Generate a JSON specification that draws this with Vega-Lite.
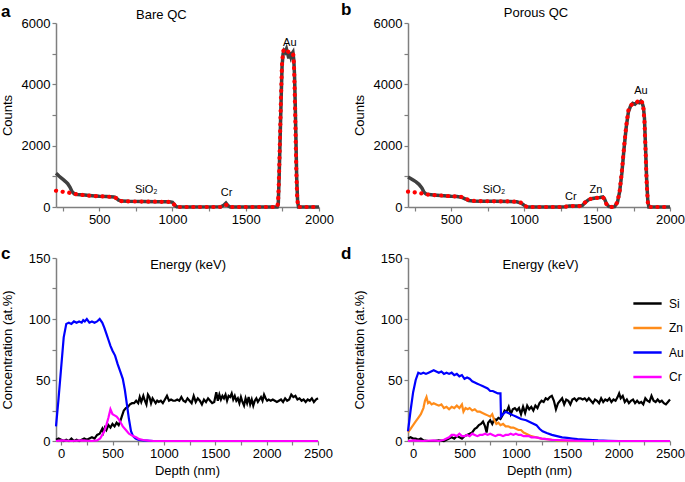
{
  "$schema": "https://vega.github.io/schema/vega-lite/v6.json",
  "padding": {"left": 1, "top": 1, "right": 2, "bottom": 2},
  "background": "white",
  "config": {
    "font": "Liberation Sans",
    "view": {"stroke": null},
    "axis": {"grid": false, "domainColor": "#7f7f7f", "domainWidth": 1.5, "tickColor": "#7f7f7f", "tickWidth": 1.2, "labelFontSize": 13, "labelColor": "black", "titleFontSize": 13, "titleFontWeight": "normal", "titleColor": "black", "labelPadding": 2, "labelOverlap": false},
    "axisX": {"labelFlush": false, "titlePadding": 4},
    "axisY": {"minExtent": 37, "maxExtent": 37, "titlePadding": 5},
    "title": {"fontSize": 17, "fontWeight": "bold", "anchor": "start", "frame": "bounds", "color": "black"}
  },
  "columns": 2,
  "spacing": {"row": 19, "column": 7},
  "resolve": {"scale": {"color": "independent"}, "legend": {"color": "independent"}},
  "datasets": {
    "a": [
      {"x":205,"y":1100,"s":"m"},{"x":215,"y":1060,"s":"m"},{"x":225,"y":1010,"s":"m"},{"x":240,"y":950,"s":"m"},{"x":255,"y":890,"s":"m"},{"x":270,"y":830,"s":"m"},{"x":285,"y":760,"s":"m"},{"x":300,"y":650,"s":"m"},{"x":315,"y":500,"s":"m"},{"x":330,"y":430,"s":"m"},{"x":350,"y":410,"s":"m"},{"x":400,"y":390,"s":"m"},{"x":450,"y":370,"s":"m"},{"x":500,"y":352,"s":"m"},{"x":550,"y":340,"s":"m"},{"x":600,"y":330,"s":"m"},{"x":615,"y":300,"s":"m"},{"x":630,"y":230,"s":"m"},{"x":650,"y":195,"s":"m"},{"x":700,"y":185,"s":"m"},{"x":800,"y":180,"s":"m"},{"x":900,"y":175,"s":"m"},{"x":980,"y":170,"s":"m"},{"x":1000,"y":150,"s":"m"},{"x":1015,"y":60,"s":"m"},{"x":1030,"y":5,"s":"m"},{"x":1100,"y":0,"s":"m"},{"x":1330,"y":5,"s":"m"},{"x":1350,"y":60,"s":"m"},{"x":1365,"y":130,"s":"m"},{"x":1380,"y":40,"s":"m"},{"x":1395,"y":0,"s":"m"},{"x":1715,"y":0,"s":"m"},{"x":1722,"y":100,"s":"m"},{"x":1728,"y":1000,"s":"m"},{"x":1735,"y":2300,"s":"m"},{"x":1742,"y":3600,"s":"m"},{"x":1748,"y":4600,"s":"m"},{"x":1755,"y":5000,"s":"m"},{"x":1762,"y":5100,"s":"m"},{"x":1770,"y":5050,"s":"m"},{"x":1778,"y":5150,"s":"m"},{"x":1786,"y":5000,"s":"m"},{"x":1794,"y":4850,"s":"m"},{"x":1800,"y":5050,"s":"m"},{"x":1808,"y":4900,"s":"m"},{"x":1815,"y":5000,"s":"m"},{"x":1822,"y":5050,"s":"m"},{"x":1828,"y":4800,"s":"m"},{"x":1833,"y":4300,"s":"m"},{"x":1838,"y":3300,"s":"m"},{"x":1843,"y":2100,"s":"m"},{"x":1848,"y":900,"s":"m"},{"x":1854,"y":200,"s":"m"},{"x":1860,"y":0,"s":"m"},{"x":2000,"y":0,"s":"m"},
      {"x":205,"y":530,"s":"f"},{"x":230,"y":510,"s":"f"},{"x":260,"y":490,"s":"f"},{"x":290,"y":470,"s":"f"},{"x":320,"y":440,"s":"f"},{"x":350,"y":410,"s":"f"},{"x":400,"y":385,"s":"f"},{"x":450,"y":365,"s":"f"},{"x":500,"y":350,"s":"f"},{"x":550,"y":340,"s":"f"},{"x":600,"y":325,"s":"f"},{"x":615,"y":290,"s":"f"},{"x":630,"y":230,"s":"f"},{"x":650,"y":190,"s":"f"},{"x":700,"y":180,"s":"f"},{"x":800,"y":178,"s":"f"},{"x":900,"y":172,"s":"f"},{"x":980,"y":165,"s":"f"},{"x":1000,"y":140,"s":"f"},{"x":1015,"y":60,"s":"f"},{"x":1030,"y":0,"s":"f"},{"x":1340,"y":0,"s":"f"},{"x":1355,"y":40,"s":"f"},{"x":1368,"y":70,"s":"f"},{"x":1382,"y":30,"s":"f"},{"x":1395,"y":0,"s":"f"},{"x":1712,"y":0,"s":"f"},{"x":1720,"y":100,"s":"f"},{"x":1726,"y":800,"s":"f"},{"x":1733,"y":2100,"s":"f"},{"x":1740,"y":3500,"s":"f"},{"x":1747,"y":4600,"s":"f"},{"x":1754,"y":5050,"s":"f"},{"x":1762,"y":5150,"s":"f"},{"x":1770,"y":5130,"s":"f"},{"x":1778,"y":5100,"s":"f"},{"x":1786,"y":5080,"s":"f"},{"x":1794,"y":5050,"s":"f"},{"x":1802,"y":5050,"s":"f"},{"x":1810,"y":5050,"s":"f"},{"x":1818,"y":5030,"s":"f"},{"x":1825,"y":4950,"s":"f"},{"x":1830,"y":4500,"s":"f"},{"x":1835,"y":3600,"s":"f"},{"x":1840,"y":2400,"s":"f"},{"x":1845,"y":1200,"s":"f"},{"x":1851,"y":300,"s":"f"},{"x":1857,"y":0,"s":"f"},{"x":2000,"y":0,"s":"f"}
    ],
    "la": [
      {"x":821,"y":554,"t":"SiO₂"},{"x":1369,"y":456,"t":"Cr"},{"x":1801,"y":5340,"t":"Au"}
    ],
    "ha": [{"x":924,"y":6254,"t":"Bare QC"}],
    "b": [
      {"x":205,"y":980,"s":"m"},{"x":220,"y":940,"s":"m"},{"x":240,"y":880,"s":"m"},{"x":260,"y":820,"s":"m"},{"x":280,"y":740,"s":"m"},{"x":300,"y":620,"s":"m"},{"x":315,"y":480,"s":"m"},{"x":330,"y":420,"s":"m"},{"x":380,"y":390,"s":"m"},{"x":450,"y":370,"s":"m"},{"x":500,"y":350,"s":"m"},{"x":540,"y":345,"s":"m"},{"x":570,"y":320,"s":"m"},{"x":600,"y":260,"s":"m"},{"x":620,"y":210,"s":"m"},{"x":650,"y":195,"s":"m"},{"x":700,"y":190,"s":"m"},{"x":800,"y":185,"s":"m"},{"x":900,"y":180,"s":"m"},{"x":950,"y":170,"s":"m"},{"x":980,"y":130,"s":"m"},{"x":1000,"y":60,"s":"m"},{"x":1015,"y":10,"s":"m"},{"x":1030,"y":0,"s":"m"},{"x":1250,"y":0,"s":"m"},{"x":1280,"y":10,"s":"m"},{"x":1310,"y":30,"s":"m"},{"x":1340,"y":35,"s":"m"},{"x":1370,"y":30,"s":"m"},{"x":1400,"y":50,"s":"m"},{"x":1420,"y":150,"s":"m"},{"x":1440,"y":230,"s":"m"},{"x":1460,"y":270,"s":"m"},{"x":1490,"y":290,"s":"m"},{"x":1520,"y":310,"s":"m"},{"x":1540,"y":330,"s":"m"},{"x":1552,"y":260,"s":"m"},{"x":1565,"y":100,"s":"m"},{"x":1580,"y":20,"s":"m"},{"x":1600,"y":0,"s":"m"},{"x":1620,"y":10,"s":"m"},{"x":1640,"y":150,"s":"m"},{"x":1655,"y":500,"s":"m"},{"x":1670,"y":1100,"s":"m"},{"x":1685,"y":1900,"s":"m"},{"x":1700,"y":2600,"s":"m"},{"x":1715,"y":3100,"s":"m"},{"x":1730,"y":3300,"s":"m"},{"x":1745,"y":3380,"s":"m"},{"x":1760,"y":3350,"s":"m"},{"x":1775,"y":3420,"s":"m"},{"x":1790,"y":3400,"s":"m"},{"x":1800,"y":3450,"s":"m"},{"x":1810,"y":3380,"s":"m"},{"x":1818,"y":3250,"s":"m"},{"x":1825,"y":2900,"s":"m"},{"x":1832,"y":2000,"s":"m"},{"x":1840,"y":900,"s":"m"},{"x":1848,"y":200,"s":"m"},{"x":1855,"y":0,"s":"m"},{"x":2000,"y":0,"s":"m"},
      {"x":205,"y":500,"s":"f"},{"x":230,"y":490,"s":"f"},{"x":260,"y":470,"s":"f"},{"x":290,"y":450,"s":"f"},{"x":320,"y":420,"s":"f"},{"x":350,"y":400,"s":"f"},{"x":400,"y":385,"s":"f"},{"x":450,"y":370,"s":"f"},{"x":500,"y":350,"s":"f"},{"x":550,"y":340,"s":"f"},{"x":580,"y":320,"s":"f"},{"x":610,"y":250,"s":"f"},{"x":640,"y":200,"s":"f"},{"x":700,"y":190,"s":"f"},{"x":800,"y":185,"s":"f"},{"x":900,"y":180,"s":"f"},{"x":950,"y":172,"s":"f"},{"x":980,"y":140,"s":"f"},{"x":1000,"y":60,"s":"f"},{"x":1020,"y":0,"s":"f"},{"x":1260,"y":0,"s":"f"},{"x":1290,"y":15,"s":"f"},{"x":1320,"y":30,"s":"f"},{"x":1350,"y":30,"s":"f"},{"x":1380,"y":30,"s":"f"},{"x":1400,"y":60,"s":"f"},{"x":1420,"y":160,"s":"f"},{"x":1440,"y":240,"s":"f"},{"x":1460,"y":270,"s":"f"},{"x":1490,"y":290,"s":"f"},{"x":1520,"y":310,"s":"f"},{"x":1540,"y":320,"s":"f"},{"x":1552,"y":250,"s":"f"},{"x":1565,"y":90,"s":"f"},{"x":1580,"y":10,"s":"f"},{"x":1600,"y":0,"s":"f"},{"x":1620,"y":15,"s":"f"},{"x":1640,"y":160,"s":"f"},{"x":1655,"y":520,"s":"f"},{"x":1670,"y":1150,"s":"f"},{"x":1685,"y":1950,"s":"f"},{"x":1700,"y":2650,"s":"f"},{"x":1715,"y":3150,"s":"f"},{"x":1730,"y":3300,"s":"f"},{"x":1745,"y":3380,"s":"f"},{"x":1760,"y":3400,"s":"f"},{"x":1775,"y":3430,"s":"f"},{"x":1790,"y":3470,"s":"f"},{"x":1800,"y":3500,"s":"f"},{"x":1810,"y":3400,"s":"f"},{"x":1818,"y":3200,"s":"f"},{"x":1825,"y":2800,"s":"f"},{"x":1832,"y":1900,"s":"f"},{"x":1840,"y":800,"s":"f"},{"x":1848,"y":150,"s":"f"},{"x":1855,"y":0,"s":"f"},{"x":2000,"y":0,"s":"f"}
    ],
    "lb": [
      {"x":794,"y":554,"t":"SiO₂"},{"x":1321,"y":325,"t":"Cr"},{"x":1493,"y":554,"t":"Zn"},{"x":1801,"y":3780,"t":"Au"}
    ],
    "hb": [{"x":1082,"y":6320,"t":"Porous QC"}],
    "hc": [{"x":1236,"y":144,"t":"Energy (keV)"}],
    "hd": [{"x":1240,"y":144,"t":"Energy (keV)"}],
    "c": [
      {"x":-50,"y":1,"s":"Si"},{"x":-25,"y":2,"s":"Si"},{"x":0,"y":1,"s":"Si"},{"x":25,"y":0,"s":"Si"},{"x":50,"y":1,"s":"Si"},{"x":75,"y":0,"s":"Si"},{"x":100,"y":2,"s":"Si"},{"x":125,"y":0,"s":"Si"},{"x":150,"y":1,"s":"Si"},{"x":175,"y":0,"s":"Si"},{"x":200,"y":1,"s":"Si"},{"x":225,"y":2,"s":"Si"},{"x":250,"y":1,"s":"Si"},{"x":275,"y":2,"s":"Si"},{"x":300,"y":3,"s":"Si"},{"x":325,"y":2,"s":"Si"},{"x":350,"y":5,"s":"Si"},{"x":375,"y":6,"s":"Si"},{"x":400,"y":10,"s":"Si"},{"x":410,"y":7,"s":"Si"},{"x":425,"y":11,"s":"Si"},{"x":440,"y":9,"s":"Si"},{"x":460,"y":13,"s":"Si"},{"x":480,"y":11,"s":"Si"},{"x":500,"y":14,"s":"Si"},{"x":520,"y":12,"s":"Si"},{"x":540,"y":15,"s":"Si"},{"x":560,"y":13,"s":"Si"},{"x":575,"y":16,"s":"Si"},{"x":590,"y":20,"s":"Si"},{"x":610,"y":25,"s":"Si"},{"x":630,"y":27,"s":"Si"},{"x":650,"y":28,"s":"Si"},{"x":670,"y":30,"s":"Si"},{"x":690,"y":31,"s":"Si"},{"x":710,"y":31,"s":"Si"},{"x":730,"y":33,"s":"Si"},{"x":750,"y":31,"s":"Si"},{"x":765,"y":36,"s":"Si"},{"x":780,"y":32,"s":"Si"},{"x":800,"y":37,"s":"Si"},{"x":815,"y":33,"s":"Si"},{"x":830,"y":30,"s":"Si"},{"x":845,"y":38,"s":"Si"},{"x":860,"y":36,"s":"Si"},{"x":875,"y":31,"s":"Si"},{"x":890,"y":35,"s":"Si"},{"x":905,"y":33,"s":"Si"},{"x":920,"y":31,"s":"Si"},{"x":935,"y":33,"s":"Si"},{"x":950,"y":32,"s":"Si"},{"x":970,"y":33,"s":"Si"},{"x":990,"y":31,"s":"Si"},{"x":1010,"y":34,"s":"Si"},{"x":1030,"y":37,"s":"Si"},{"x":1050,"y":33,"s":"Si"},{"x":1070,"y":34,"s":"Si"},{"x":1090,"y":33,"s":"Si"},{"x":1110,"y":33,"s":"Si"},{"x":1130,"y":34,"s":"Si"},{"x":1150,"y":33,"s":"Si"},{"x":1170,"y":36,"s":"Si"},{"x":1190,"y":33,"s":"Si"},{"x":1210,"y":32,"s":"Si"},{"x":1230,"y":35,"s":"Si"},{"x":1250,"y":33,"s":"Si"},{"x":1270,"y":31,"s":"Si"},{"x":1290,"y":37,"s":"Si"},{"x":1310,"y":32,"s":"Si"},{"x":1330,"y":35,"s":"Si"},{"x":1350,"y":33,"s":"Si"},{"x":1370,"y":30,"s":"Si"},{"x":1390,"y":34,"s":"Si"},{"x":1410,"y":32,"s":"Si"},{"x":1430,"y":35,"s":"Si"},{"x":1450,"y":33,"s":"Si"},{"x":1470,"y":31,"s":"Si"},{"x":1490,"y":32,"s":"Si"},{"x":1510,"y":40,"s":"Si"},{"x":1525,"y":33,"s":"Si"},{"x":1540,"y":38,"s":"Si"},{"x":1555,"y":34,"s":"Si"},{"x":1570,"y":37,"s":"Si"},{"x":1585,"y":35,"s":"Si"},{"x":1600,"y":38,"s":"Si"},{"x":1615,"y":33,"s":"Si"},{"x":1630,"y":37,"s":"Si"},{"x":1645,"y":36,"s":"Si"},{"x":1660,"y":39,"s":"Si"},{"x":1675,"y":34,"s":"Si"},{"x":1690,"y":37,"s":"Si"},{"x":1705,"y":33,"s":"Si"},{"x":1720,"y":35,"s":"Si"},{"x":1735,"y":31,"s":"Si"},{"x":1750,"y":36,"s":"Si"},{"x":1765,"y":32,"s":"Si"},{"x":1780,"y":29,"s":"Si"},{"x":1795,"y":35,"s":"Si"},{"x":1810,"y":31,"s":"Si"},{"x":1825,"y":36,"s":"Si"},{"x":1840,"y":30,"s":"Si"},{"x":1855,"y":34,"s":"Si"},{"x":1870,"y":29,"s":"Si"},{"x":1885,"y":33,"s":"Si"},{"x":1900,"y":35,"s":"Si"},{"x":1915,"y":32,"s":"Si"},{"x":1930,"y":34,"s":"Si"},{"x":1945,"y":36,"s":"Si"},{"x":1960,"y":33,"s":"Si"},{"x":1975,"y":38,"s":"Si"},{"x":1990,"y":35,"s":"Si"},{"x":2005,"y":33,"s":"Si"},{"x":2020,"y":34,"s":"Si"},{"x":2040,"y":33,"s":"Si"},{"x":2060,"y":34,"s":"Si"},{"x":2080,"y":33,"s":"Si"},{"x":2100,"y":32,"s":"Si"},{"x":2120,"y":33,"s":"Si"},{"x":2140,"y":34,"s":"Si"},{"x":2160,"y":32,"s":"Si"},{"x":2180,"y":35,"s":"Si"},{"x":2200,"y":33,"s":"Si"},{"x":2220,"y":34,"s":"Si"},{"x":2240,"y":38,"s":"Si"},{"x":2260,"y":36,"s":"Si"},{"x":2280,"y":37,"s":"Si"},{"x":2300,"y":34,"s":"Si"},{"x":2320,"y":35,"s":"Si"},{"x":2340,"y":33,"s":"Si"},{"x":2360,"y":34,"s":"Si"},{"x":2380,"y":32,"s":"Si"},{"x":2400,"y":34,"s":"Si"},{"x":2420,"y":33,"s":"Si"},{"x":2440,"y":35,"s":"Si"},{"x":2460,"y":32,"s":"Si"},{"x":2480,"y":34,"s":"Si"},{"x":2500,"y":35,"s":"Si"},
      {"x":-50,"y":12,"s":"Au"},{"x":-25,"y":35,"s":"Au"},{"x":0,"y":60,"s":"Au"},{"x":25,"y":85,"s":"Au"},{"x":50,"y":96,"s":"Au"},{"x":75,"y":97,"s":"Au"},{"x":100,"y":96,"s":"Au"},{"x":125,"y":98,"s":"Au"},{"x":150,"y":97,"s":"Au"},{"x":175,"y":98,"s":"Au"},{"x":200,"y":97,"s":"Au"},{"x":215,"y":99,"s":"Au"},{"x":230,"y":98,"s":"Au"},{"x":250,"y":100,"s":"Au"},{"x":275,"y":97,"s":"Au"},{"x":300,"y":98,"s":"Au"},{"x":325,"y":97,"s":"Au"},{"x":350,"y":98,"s":"Au"},{"x":375,"y":100,"s":"Au"},{"x":400,"y":97,"s":"Au"},{"x":420,"y":93,"s":"Au"},{"x":440,"y":88,"s":"Au"},{"x":460,"y":83,"s":"Au"},{"x":480,"y":78,"s":"Au"},{"x":500,"y":74,"s":"Au"},{"x":525,"y":70,"s":"Au"},{"x":550,"y":63,"s":"Au"},{"x":575,"y":57,"s":"Au"},{"x":600,"y":51,"s":"Au"},{"x":620,"y":42,"s":"Au"},{"x":640,"y":30,"s":"Au"},{"x":660,"y":18,"s":"Au"},{"x":680,"y":8,"s":"Au"},{"x":700,"y":4,"s":"Au"},{"x":725,"y":2,"s":"Au"},{"x":750,"y":1,"s":"Au"},{"x":800,"y":0.5,"s":"Au"},{"x":900,"y":0,"s":"Au"},{"x":2500,"y":0,"s":"Au"},
      {"x":-50,"y":0,"s":"Cr"},{"x":0,"y":0.5,"s":"Cr"},{"x":100,"y":0,"s":"Cr"},{"x":200,"y":0.5,"s":"Cr"},{"x":300,"y":0,"s":"Cr"},{"x":350,"y":0.5,"s":"Cr"},{"x":380,"y":2,"s":"Cr"},{"x":400,"y":5,"s":"Cr"},{"x":420,"y":8,"s":"Cr"},{"x":440,"y":13,"s":"Cr"},{"x":460,"y":19,"s":"Cr"},{"x":480,"y":26,"s":"Cr"},{"x":490,"y":24,"s":"Cr"},{"x":500,"y":22,"s":"Cr"},{"x":520,"y":21,"s":"Cr"},{"x":540,"y":20,"s":"Cr"},{"x":560,"y":18,"s":"Cr"},{"x":580,"y":15,"s":"Cr"},{"x":600,"y":12,"s":"Cr"},{"x":630,"y":9,"s":"Cr"},{"x":660,"y":6,"s":"Cr"},{"x":700,"y":4,"s":"Cr"},{"x":730,"y":3,"s":"Cr"},{"x":760,"y":1.5,"s":"Cr"},{"x":800,"y":0.8,"s":"Cr"},{"x":850,"y":0.3,"s":"Cr"},{"x":900,"y":0,"s":"Cr"},{"x":2500,"y":0,"s":"Cr"}
    ],
    "d": [
      {"x":-50,"y":2,"s":"Si"},{"x":-25,"y":3,"s":"Si"},{"x":0,"y":2,"s":"Si"},{"x":25,"y":2,"s":"Si"},{"x":50,"y":1,"s":"Si"},{"x":75,"y":2,"s":"Si"},{"x":100,"y":0.5,"s":"Si"},{"x":150,"y":0,"s":"Si"},{"x":200,"y":0,"s":"Si"},{"x":250,"y":0.5,"s":"Si"},{"x":300,"y":0,"s":"Si"},{"x":325,"y":1,"s":"Si"},{"x":350,"y":2,"s":"Si"},{"x":375,"y":3,"s":"Si"},{"x":400,"y":2,"s":"Si"},{"x":425,"y":4,"s":"Si"},{"x":450,"y":3,"s":"Si"},{"x":475,"y":2,"s":"Si"},{"x":500,"y":4,"s":"Si"},{"x":525,"y":5,"s":"Si"},{"x":550,"y":6,"s":"Si"},{"x":575,"y":7,"s":"Si"},{"x":600,"y":10,"s":"Si"},{"x":620,"y":11,"s":"Si"},{"x":640,"y":13,"s":"Si"},{"x":660,"y":14,"s":"Si"},{"x":680,"y":16,"s":"Si"},{"x":700,"y":12,"s":"Si"},{"x":715,"y":7,"s":"Si"},{"x":730,"y":15,"s":"Si"},{"x":750,"y":17,"s":"Si"},{"x":770,"y":14,"s":"Si"},{"x":790,"y":18,"s":"Si"},{"x":810,"y":17,"s":"Si"},{"x":830,"y":19,"s":"Si"},{"x":850,"y":18,"s":"Si"},{"x":870,"y":21,"s":"Si"},{"x":890,"y":25,"s":"Si"},{"x":910,"y":24,"s":"Si"},{"x":930,"y":28,"s":"Si"},{"x":950,"y":22,"s":"Si"},{"x":970,"y":26,"s":"Si"},{"x":990,"y":27,"s":"Si"},{"x":1010,"y":25,"s":"Si"},{"x":1030,"y":27,"s":"Si"},{"x":1050,"y":22,"s":"Si"},{"x":1070,"y":28,"s":"Si"},{"x":1090,"y":23,"s":"Si"},{"x":1110,"y":29,"s":"Si"},{"x":1130,"y":26,"s":"Si"},{"x":1150,"y":28,"s":"Si"},{"x":1170,"y":25,"s":"Si"},{"x":1190,"y":29,"s":"Si"},{"x":1210,"y":27,"s":"Si"},{"x":1230,"y":31,"s":"Si"},{"x":1250,"y":33,"s":"Si"},{"x":1270,"y":32,"s":"Si"},{"x":1290,"y":35,"s":"Si"},{"x":1310,"y":34,"s":"Si"},{"x":1330,"y":36,"s":"Si"},{"x":1350,"y":37,"s":"Si"},{"x":1370,"y":33,"s":"Si"},{"x":1390,"y":26,"s":"Si"},{"x":1410,"y":31,"s":"Si"},{"x":1430,"y":33,"s":"Si"},{"x":1450,"y":35,"s":"Si"},{"x":1470,"y":30,"s":"Si"},{"x":1490,"y":34,"s":"Si"},{"x":1510,"y":33,"s":"Si"},{"x":1530,"y":30,"s":"Si"},{"x":1550,"y":34,"s":"Si"},{"x":1570,"y":35,"s":"Si"},{"x":1590,"y":33,"s":"Si"},{"x":1610,"y":35,"s":"Si"},{"x":1630,"y":35,"s":"Si"},{"x":1650,"y":34,"s":"Si"},{"x":1670,"y":35,"s":"Si"},{"x":1690,"y":33,"s":"Si"},{"x":1710,"y":35,"s":"Si"},{"x":1730,"y":33,"s":"Si"},{"x":1750,"y":31,"s":"Si"},{"x":1770,"y":34,"s":"Si"},{"x":1790,"y":33,"s":"Si"},{"x":1810,"y":31,"s":"Si"},{"x":1830,"y":35,"s":"Si"},{"x":1850,"y":32,"s":"Si"},{"x":1870,"y":34,"s":"Si"},{"x":1890,"y":33,"s":"Si"},{"x":1910,"y":35,"s":"Si"},{"x":1930,"y":32,"s":"Si"},{"x":1950,"y":34,"s":"Si"},{"x":1970,"y":33,"s":"Si"},{"x":1990,"y":36,"s":"Si"},{"x":2005,"y":39,"s":"Si"},{"x":2020,"y":35,"s":"Si"},{"x":2040,"y":37,"s":"Si"},{"x":2060,"y":32,"s":"Si"},{"x":2080,"y":34,"s":"Si"},{"x":2100,"y":31,"s":"Si"},{"x":2120,"y":33,"s":"Si"},{"x":2140,"y":34,"s":"Si"},{"x":2160,"y":31,"s":"Si"},{"x":2180,"y":33,"s":"Si"},{"x":2200,"y":31,"s":"Si"},{"x":2220,"y":32,"s":"Si"},{"x":2240,"y":30,"s":"Si"},{"x":2260,"y":35,"s":"Si"},{"x":2280,"y":33,"s":"Si"},{"x":2300,"y":32,"s":"Si"},{"x":2320,"y":37,"s":"Si"},{"x":2340,"y":33,"s":"Si"},{"x":2360,"y":32,"s":"Si"},{"x":2380,"y":34,"s":"Si"},{"x":2400,"y":32,"s":"Si"},{"x":2420,"y":33,"s":"Si"},{"x":2440,"y":31,"s":"Si"},{"x":2460,"y":30,"s":"Si"},{"x":2480,"y":32,"s":"Si"},{"x":2500,"y":34,"s":"Si"},
      {"x":-50,"y":7,"s":"Zn"},{"x":-25,"y":10,"s":"Zn"},{"x":0,"y":13,"s":"Zn"},{"x":25,"y":16,"s":"Zn"},{"x":50,"y":19,"s":"Zn"},{"x":75,"y":22,"s":"Zn"},{"x":100,"y":27,"s":"Zn"},{"x":115,"y":33,"s":"Zn"},{"x":130,"y":36,"s":"Zn"},{"x":145,"y":31,"s":"Zn"},{"x":160,"y":32,"s":"Zn"},{"x":180,"y":30,"s":"Zn"},{"x":200,"y":31,"s":"Zn"},{"x":225,"y":30,"s":"Zn"},{"x":250,"y":29,"s":"Zn"},{"x":275,"y":30,"s":"Zn"},{"x":300,"y":27,"s":"Zn"},{"x":325,"y":28,"s":"Zn"},{"x":350,"y":26,"s":"Zn"},{"x":375,"y":28,"s":"Zn"},{"x":400,"y":27,"s":"Zn"},{"x":425,"y":29,"s":"Zn"},{"x":450,"y":27,"s":"Zn"},{"x":475,"y":30,"s":"Zn"},{"x":490,"y":24,"s":"Zn"},{"x":510,"y":27,"s":"Zn"},{"x":530,"y":26,"s":"Zn"},{"x":550,"y":27,"s":"Zn"},{"x":575,"y":25,"s":"Zn"},{"x":600,"y":26,"s":"Zn"},{"x":625,"y":24,"s":"Zn"},{"x":650,"y":24,"s":"Zn"},{"x":675,"y":23,"s":"Zn"},{"x":700,"y":22,"s":"Zn"},{"x":725,"y":21,"s":"Zn"},{"x":750,"y":20,"s":"Zn"},{"x":770,"y":22,"s":"Zn"},{"x":790,"y":17,"s":"Zn"},{"x":810,"y":14,"s":"Zn"},{"x":830,"y":15,"s":"Zn"},{"x":850,"y":13,"s":"Zn"},{"x":875,"y":14,"s":"Zn"},{"x":900,"y":12,"s":"Zn"},{"x":925,"y":12,"s":"Zn"},{"x":950,"y":11,"s":"Zn"},{"x":975,"y":11,"s":"Zn"},{"x":1000,"y":10,"s":"Zn"},{"x":1025,"y":9,"s":"Zn"},{"x":1050,"y":9,"s":"Zn"},{"x":1075,"y":7,"s":"Zn"},{"x":1100,"y":6,"s":"Zn"},{"x":1125,"y":5,"s":"Zn"},{"x":1150,"y":4,"s":"Zn"},{"x":1175,"y":3.5,"s":"Zn"},{"x":1200,"y":3,"s":"Zn"},{"x":1250,"y":2,"s":"Zn"},{"x":1300,"y":1.5,"s":"Zn"},{"x":1350,"y":1,"s":"Zn"},{"x":1400,"y":0.5,"s":"Zn"},{"x":1500,"y":0.2,"s":"Zn"},{"x":1600,"y":0,"s":"Zn"},{"x":2500,"y":0,"s":"Zn"},
      {"x":-50,"y":8,"s":"Au"},{"x":-25,"y":25,"s":"Au"},{"x":0,"y":40,"s":"Au"},{"x":25,"y":50,"s":"Au"},{"x":50,"y":56,"s":"Au"},{"x":75,"y":55,"s":"Au"},{"x":100,"y":56,"s":"Au"},{"x":125,"y":55,"s":"Au"},{"x":150,"y":56,"s":"Au"},{"x":175,"y":57,"s":"Au"},{"x":200,"y":58,"s":"Au"},{"x":225,"y":57,"s":"Au"},{"x":250,"y":56,"s":"Au"},{"x":275,"y":57,"s":"Au"},{"x":300,"y":55,"s":"Au"},{"x":325,"y":56,"s":"Au"},{"x":350,"y":55,"s":"Au"},{"x":375,"y":56,"s":"Au"},{"x":400,"y":54,"s":"Au"},{"x":425,"y":55,"s":"Au"},{"x":450,"y":53,"s":"Au"},{"x":475,"y":54,"s":"Au"},{"x":500,"y":51,"s":"Au"},{"x":525,"y":52,"s":"Au"},{"x":550,"y":51,"s":"Au"},{"x":575,"y":49,"s":"Au"},{"x":600,"y":48,"s":"Au"},{"x":625,"y":47,"s":"Au"},{"x":650,"y":46,"s":"Au"},{"x":675,"y":45,"s":"Au"},{"x":700,"y":44,"s":"Au"},{"x":725,"y":43,"s":"Au"},{"x":750,"y":41,"s":"Au"},{"x":775,"y":41,"s":"Au"},{"x":800,"y":40,"s":"Au"},{"x":825,"y":39,"s":"Au"},{"x":850,"y":39,"s":"Au"},{"x":855,"y":20,"s":"Au"},{"x":875,"y":22,"s":"Au"},{"x":900,"y":24,"s":"Au"},{"x":925,"y":23,"s":"Au"},{"x":950,"y":22,"s":"Au"},{"x":975,"y":21,"s":"Au"},{"x":1000,"y":20,"s":"Au"},{"x":1050,"y":18,"s":"Au"},{"x":1100,"y":17,"s":"Au"},{"x":1150,"y":15,"s":"Au"},{"x":1200,"y":13,"s":"Au"},{"x":1230,"y":10,"s":"Au"},{"x":1260,"y":8,"s":"Au"},{"x":1300,"y":6.5,"s":"Au"},{"x":1350,"y":5,"s":"Au"},{"x":1400,"y":4,"s":"Au"},{"x":1450,"y":3,"s":"Au"},{"x":1500,"y":2.5,"s":"Au"},{"x":1550,"y":2,"s":"Au"},{"x":1600,"y":1.5,"s":"Au"},{"x":1700,"y":1,"s":"Au"},{"x":1800,"y":0.5,"s":"Au"},{"x":1900,"y":0.2,"s":"Au"},{"x":2000,"y":0,"s":"Au"},{"x":2500,"y":0,"s":"Au"},
      {"x":-50,"y":0,"s":"Cr"},{"x":0,"y":0.5,"s":"Cr"},{"x":100,"y":0,"s":"Cr"},{"x":200,"y":0.5,"s":"Cr"},{"x":250,"y":0,"s":"Cr"},{"x":300,"y":1,"s":"Cr"},{"x":325,"y":2,"s":"Cr"},{"x":350,"y":3,"s":"Cr"},{"x":375,"y":5,"s":"Cr"},{"x":400,"y":5,"s":"Cr"},{"x":425,"y":4,"s":"Cr"},{"x":450,"y":6,"s":"Cr"},{"x":475,"y":4,"s":"Cr"},{"x":500,"y":4,"s":"Cr"},{"x":525,"y":5,"s":"Cr"},{"x":550,"y":4,"s":"Cr"},{"x":575,"y":6,"s":"Cr"},{"x":600,"y":5,"s":"Cr"},{"x":625,"y":4,"s":"Cr"},{"x":650,"y":5,"s":"Cr"},{"x":675,"y":5,"s":"Cr"},{"x":700,"y":6,"s":"Cr"},{"x":725,"y":5,"s":"Cr"},{"x":750,"y":6,"s":"Cr"},{"x":775,"y":5,"s":"Cr"},{"x":800,"y":4,"s":"Cr"},{"x":825,"y":5,"s":"Cr"},{"x":850,"y":5,"s":"Cr"},{"x":875,"y":4,"s":"Cr"},{"x":900,"y":5,"s":"Cr"},{"x":925,"y":5,"s":"Cr"},{"x":950,"y":6,"s":"Cr"},{"x":975,"y":5,"s":"Cr"},{"x":1000,"y":6,"s":"Cr"},{"x":1025,"y":5,"s":"Cr"},{"x":1050,"y":5,"s":"Cr"},{"x":1075,"y":4,"s":"Cr"},{"x":1100,"y":4,"s":"Cr"},{"x":1125,"y":4,"s":"Cr"},{"x":1150,"y":3,"s":"Cr"},{"x":1175,"y":3,"s":"Cr"},{"x":1200,"y":3,"s":"Cr"},{"x":1250,"y":2,"s":"Cr"},{"x":1300,"y":1.5,"s":"Cr"},{"x":1350,"y":1,"s":"Cr"},{"x":1400,"y":0.8,"s":"Cr"},{"x":1500,"y":0.5,"s":"Cr"},{"x":1600,"y":0.2,"s":"Cr"},{"x":1700,"y":0,"s":"Cr"},{"x":2500,"y":0,"s":"Cr"}
    ]
  },
  "concat": [
    {
      "width": 263, "height": 184,
      "title": {"text": "a", "offset": -12},
      "data": {"name": "a"},
      "encoding": {
        "x": {"field": "x", "type": "quantitative", "scale": {"domain": [205, 2000], "nice": false, "zero": false},
              "axis": {"title": null, "values": [250,500,750,1000,1250,1500,1750,2000], "format": "d", "labelExpr": "datum.value % 500 == 0 ? datum.label : ''", "tickSize": 4}},
        "y": {"field": "y", "type": "quantitative", "scale": {"domain": [0, 6000], "nice": false},
              "axis": {"title": "Counts", "values": [0,1000,2000,3000,4000,5000,6000], "format": "d", "labelExpr": "datum.value % 2000 == 0 ? datum.label : ''", "tickSize": 4}}
      },
      "layer": [
        {"transform": [{"filter": "datum.s == 'm'"}], "mark": {"type": "line", "color": "#404040", "strokeWidth": 3.5}},
        {"transform": [{"filter": "datum.s == 'f'"}], "mark": {"type": "line", "color": "#ff0000", "strokeWidth": 4.2, "strokeDash": [0.1, 6.6], "strokeCap": "round"}},
        {"data": {"name": "la"}, "mark": {"type": "text", "fontSize": 11, "baseline": "middle", "color": "black"}, "encoding": {"text": {"field": "t"}}},
        {"data": {"name": "ha"}, "mark": {"type": "text", "fontSize": 13, "baseline": "middle", "color": "black"}, "encoding": {"text": {"field": "t"}}}
      ]
    },
    {
      "width": 262, "height": 184,
      "title": {"text": "b", "offset": -12, "dx": -12},
      "data": {"name": "b"},
      "encoding": {
        "x": {"field": "x", "type": "quantitative", "scale": {"domain": [205, 2000], "nice": false, "zero": false},
              "axis": {"title": null, "values": [250,500,750,1000,1250,1500,1750,2000], "format": "d", "labelExpr": "datum.value % 500 == 0 ? datum.label : ''", "tickSize": 4}},
        "y": {"field": "y", "type": "quantitative", "scale": {"domain": [0, 6000], "nice": false},
              "axis": {"title": "Counts", "values": [0,1000,2000,3000,4000,5000,6000], "format": "d", "labelExpr": "datum.value % 2000 == 0 ? datum.label : ''", "tickSize": 4}}
      },
      "layer": [
        {"transform": [{"filter": "datum.s == 'm'"}], "mark": {"type": "line", "color": "#404040", "strokeWidth": 3.5}},
        {"transform": [{"filter": "datum.s == 'f'"}], "mark": {"type": "line", "color": "#ff0000", "strokeWidth": 4.2, "strokeDash": [0.1, 6.6], "strokeCap": "round"}},
        {"data": {"name": "lb"}, "mark": {"type": "text", "fontSize": 11, "baseline": "middle", "color": "black"}, "encoding": {"text": {"field": "t"}}},
        {"data": {"name": "hb"}, "mark": {"type": "text", "fontSize": 13, "baseline": "middle", "color": "black"}, "encoding": {"text": {"field": "t"}}}
      ]
    },
    {
      "width": 262, "height": 183,
      "title": {"text": "c", "offset": -11},
      "data": {"name": "c"},
      "encoding": {
        "x": {"field": "x", "type": "quantitative", "scale": {"domain": [-50, 2500], "nice": false, "zero": false},
              "axis": {"title": "Depth (nm)", "values": [0,250,500,750,1000,1250,1500,1750,2000,2250,2500], "format": "d", "labelExpr": "datum.value % 500 == 0 ? datum.label : ''", "tickSize": 4}},
        "y": {"field": "y", "type": "quantitative", "scale": {"domain": [0, 150], "nice": false},
              "axis": {"title": "Concentration (at.%)", "values": [0,25,50,75,100,125,150], "format": "d", "labelExpr": "datum.value % 50 == 0 ? datum.label : ''", "tickSize": 4}}
      },
      "layer": [
        {"mark": {"type": "line", "strokeWidth": 2.2},
         "encoding": {"color": {"field": "s", "type": "nominal", "scale": {"domain": ["Si","Zn","Au","Cr"], "range": ["#000000","#ff8c1a","#0000ff","#ff00ff"]}, "legend": null}}},
        {"data": {"name": "hc"}, "mark": {"type": "text", "fontSize": 13, "baseline": "middle", "color": "black"}, "encoding": {"text": {"field": "t"}}}
      ]
    },
    {
      "width": 262, "height": 183,
      "title": {"text": "d", "offset": -11, "dx": -12},
      "data": {"name": "d"},
      "encoding": {
        "x": {"field": "x", "type": "quantitative", "scale": {"domain": [-50, 2500], "nice": false, "zero": false},
              "axis": {"title": "Depth (nm)", "values": [0,250,500,750,1000,1250,1500,1750,2000,2250,2500], "format": "d", "labelExpr": "datum.value % 500 == 0 ? datum.label : ''", "tickSize": 4}},
        "y": {"field": "y", "type": "quantitative", "scale": {"domain": [0, 150], "nice": false},
              "axis": {"title": "Concentration (at.%)", "values": [0,25,50,75,100,125,150], "format": "d", "labelExpr": "datum.value % 50 == 0 ? datum.label : ''", "tickSize": 4}}
      },
      "layer": [
        {"mark": {"type": "line", "strokeWidth": 2.2},
         "encoding": {"color": {"field": "s", "type": "nominal", "scale": {"domain": ["Si","Zn","Au","Cr"], "range": ["#000000","#ff8c1a","#0000ff","#ff00ff"]},
           "legend": {"title": null, "orient": "none", "legendX": 224, "legendY": 30, "symbolType": "stroke", "symbolSize": 800, "symbolStrokeWidth": 2.5, "labelFontSize": 12, "labelColor": "black", "rowPadding": 2.5, "labelOffset": 6, "padding": 0}}}},
        {"data": {"name": "hd"}, "mark": {"type": "text", "fontSize": 13, "baseline": "middle", "color": "black"}, "encoding": {"text": {"field": "t"}}}
      ]
    }
  ]
}
